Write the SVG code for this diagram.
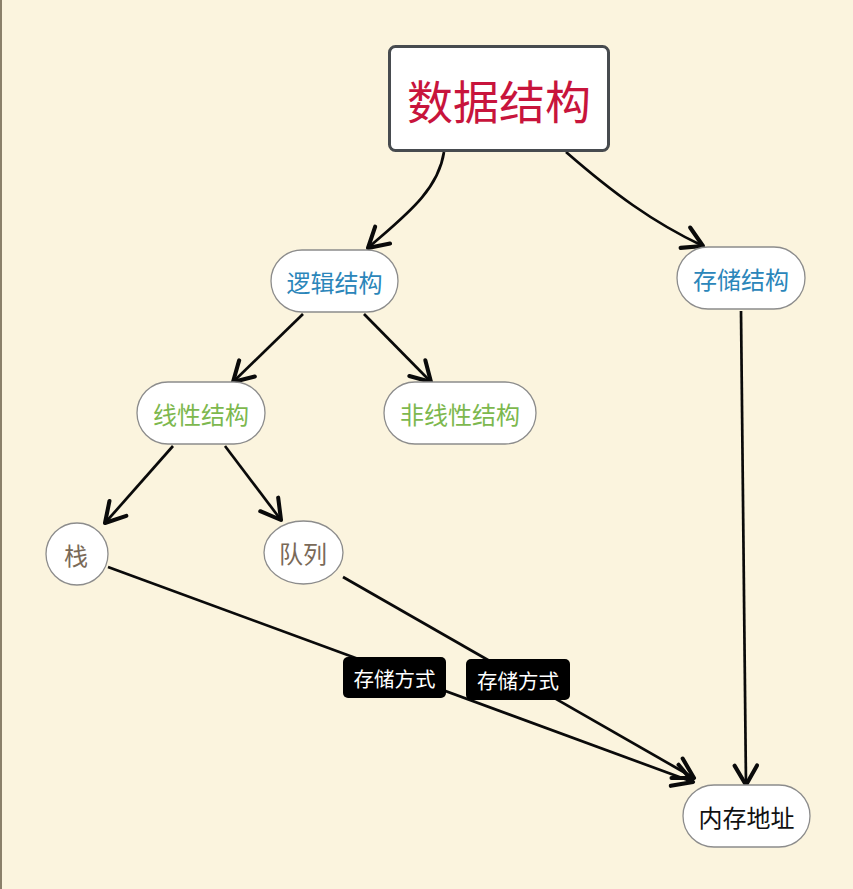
<svg xmlns="http://www.w3.org/2000/svg" width="853" height="889" viewBox="0 0 853 889">
<style>
.node{fill:#ffffff;stroke:#8c8c8c;stroke-width:1.3}
.t{font-family:"Noto Sans CJK SC","Noto Sans",sans-serif;text-anchor:middle;dominant-baseline:central}
.conn{fill:none;stroke:#0a0a0a;stroke-width:2.7}
.lbl{fill:#000;}
</style>
<defs>
<marker id="arr" markerUnits="userSpaceOnUse" markerWidth="30" markerHeight="30" viewBox="-16 -10 20 20" refX="0" refY="0" orient="auto">
<path d="M-13,-7.5 L0,0 L-13,7.5" fill="none" stroke="#0a0a0a" stroke-width="2.7" stroke-linecap="round" stroke-linejoin="round"/>
</marker>
</defs>
<rect x="0" y="0" width="853" height="889" fill="#FBF4DE"/>
<rect x="0" y="0" width="2" height="889" fill="#8a806a"/>
<g id="connectors">
<path class="conn" marker-end="url(#arr)" d="M444,152 C438,192 402,218 368,248"/>
<path class="conn" marker-end="url(#arr)" d="M566,152 C612,192 652,222 703,246"/>
<path class="conn" marker-end="url(#arr)" d="M303,314 L233,382"/>
<path class="conn" marker-end="url(#arr)" d="M364,314 L431,382"/>
<path class="conn" marker-end="url(#arr)" d="M173,446 L105,523"/>
<path class="conn" marker-end="url(#arr)" d="M225,446 L281,520"/>
<path class="conn" marker-end="url(#arr)" d="M741,311 L746,785"/>
<path class="conn" marker-end="url(#arr)" d="M108,567 L693,782"/>
<path class="conn" marker-end="url(#arr)" d="M343,577 L694,778"/>
<g id="label1">
<rect class="lbl" x="343" y="657" width="103" height="41" rx="5"/>
<text class="t" x="394.5" y="678" font-size="20.5" fill="#ffffff">存储方式</text>
</g>
<g id="label2">
<rect class="lbl" x="466" y="659" width="104" height="41" rx="5"/>
<text class="t" x="518" y="680" font-size="20.5" fill="#ffffff">存储方式</text>
</g>
</g>
<g id="n_root">
<rect x="389.5" y="46.5" width="219" height="104" rx="6" fill="#ffffff" stroke="#474b4f" stroke-width="3"/>
<text class="t" x="499" y="99" font-size="46" fill="#C8143C">数据结构</text>
</g>
<g id="n_logic">
<rect class="node" x="271" y="250" width="127" height="62" rx="31"/>
<text class="t" x="334.5" y="281" font-size="24" fill="#2B86BA">逻辑结构</text>
</g>
<g id="n_storage">
<rect class="node" x="677" y="247" width="128" height="62" rx="31"/>
<text class="t" x="741" y="278" font-size="24" fill="#2B86BA">存储结构</text>
</g>
<g id="n_linear">
<rect class="node" x="137" y="382" width="128" height="62" rx="31"/>
<text class="t" x="201" y="413" font-size="24" fill="#7DB84E">线性结构</text>
</g>
<g id="n_nonlinear">
<rect class="node" x="384" y="382" width="152" height="62" rx="31"/>
<text class="t" x="460" y="413" font-size="24" fill="#7DB84E">非线性结构</text>
</g>
<g id="n_stack">
<circle class="node" cx="77" cy="554" r="31"/>
<text class="t" x="76" y="554" font-size="24" fill="#7a6a58">栈</text>
</g>
<g id="n_queue">
<ellipse class="node" cx="303.5" cy="552.5" rx="39.5" ry="31.5"/>
<text class="t" x="303" y="552" font-size="24" fill="#7a6a58">队列</text>
</g>
<g id="n_mem">
<rect class="node" x="683" y="785" width="127" height="62" rx="31"/>
<text class="t" x="746.5" y="816" font-size="24" fill="#111111">内存地址</text>
</g>
</svg>
